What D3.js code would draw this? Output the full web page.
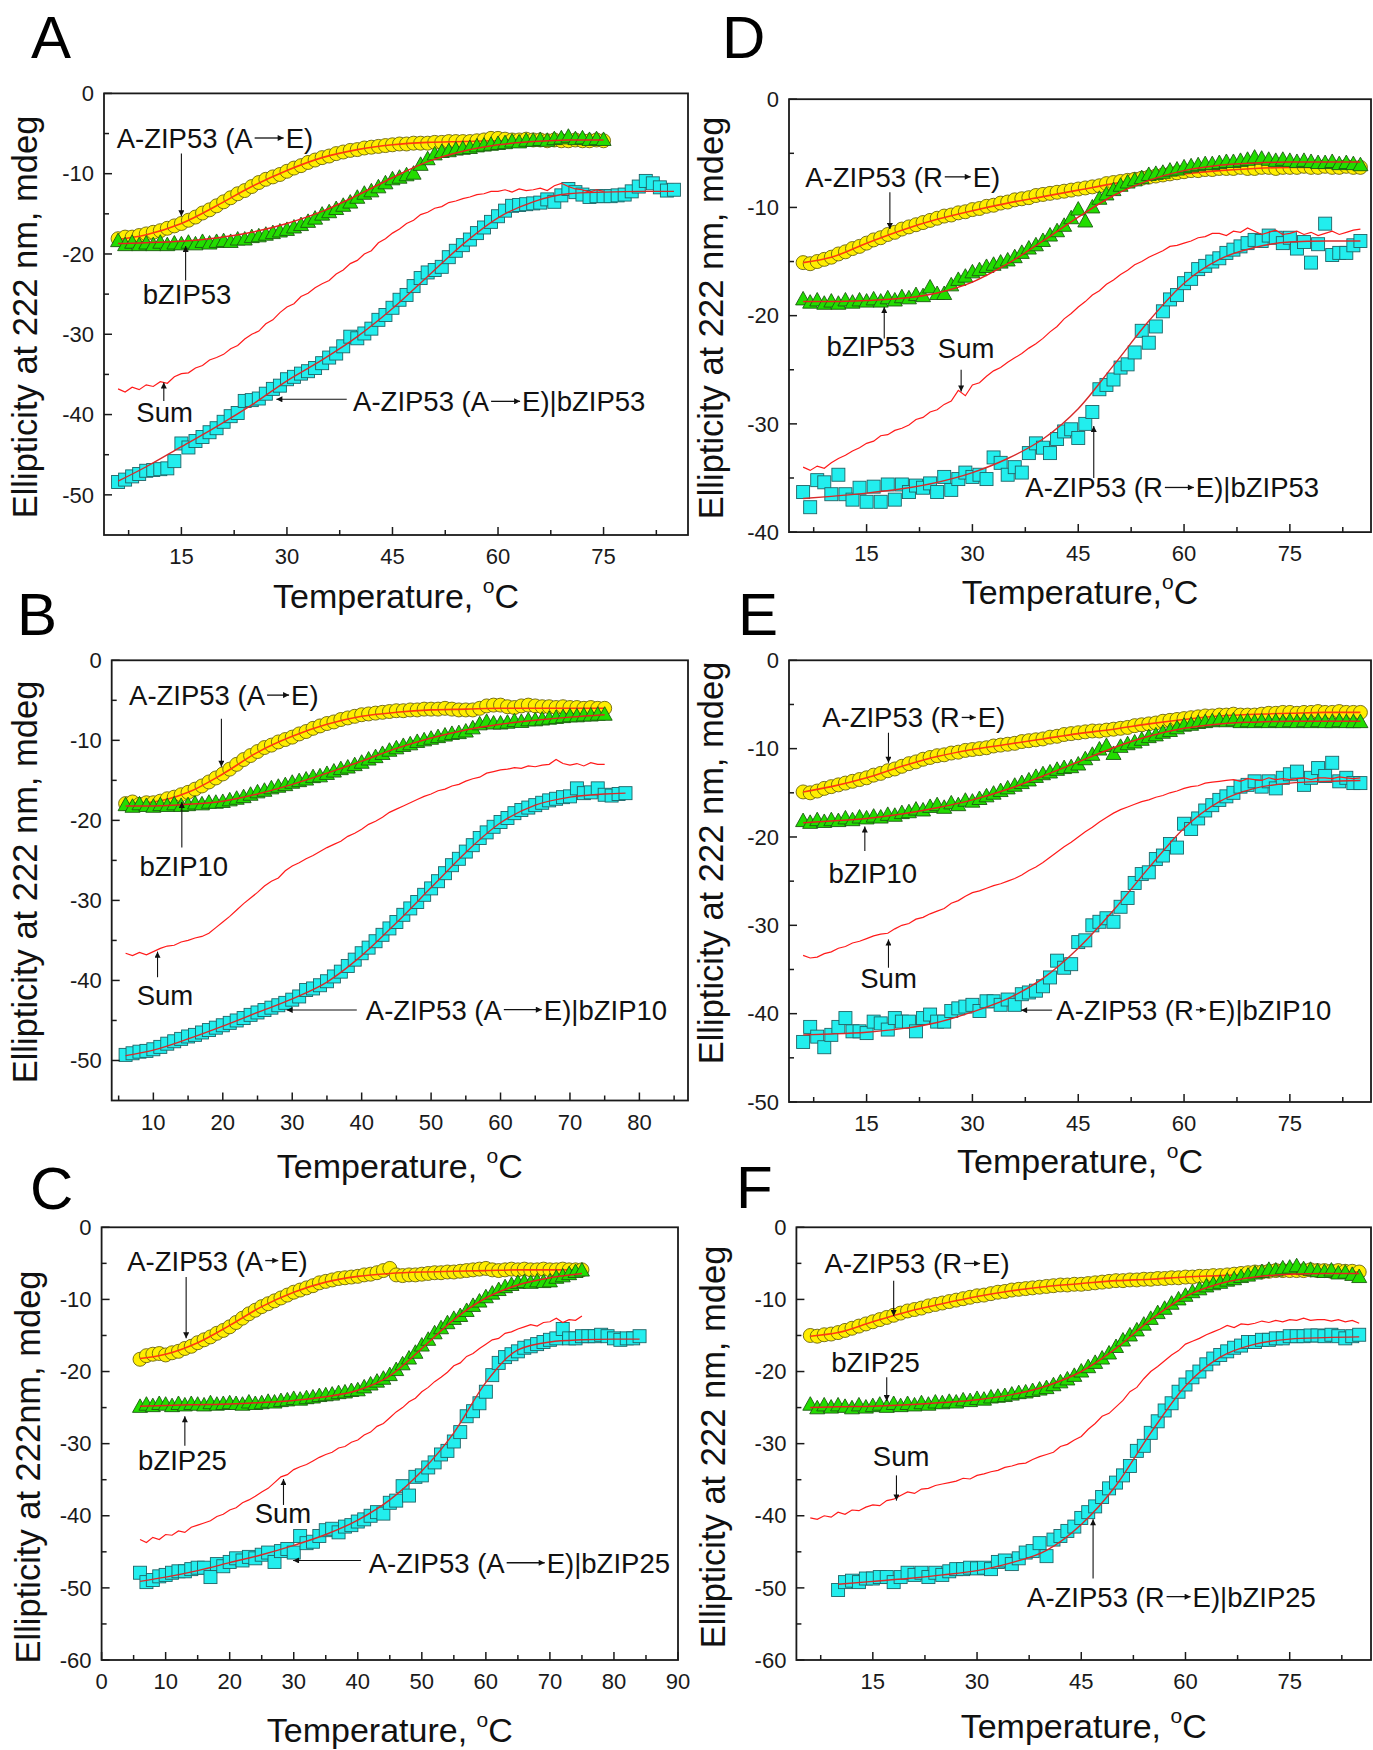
<!DOCTYPE html>
<html>
<head>
<meta charset="UTF-8">
<title>Thermal denaturation, six panels</title>
<script src="https://d3js.org/d3.v7.min.js"></script>
<style>
  body { margin: 0; background: #fff; }
  svg { display: block; font-family: "Liberation Sans", Arial, sans-serif; }
</style>
</head>
<body>
<svg id="fig" width="1373" height="1750"></svg>
<script>
// temperature grids (deg C)
const t6to75 = [6,7,8,9,10,11,12,13,14,15,16,17,18,19,20,21,22,23,24,25,26,27,28,29,30,31,32,33,34,35,36,37,38,39,40,41,42,43,44,45,46,47,48,49,50,51,52,53,54,55,56,57,58,59,60,61,62,63,64,65,66,67,68,69,70,71,72,73,74,75];
const t6to78 = [6,7,8,9,10,11,12,13,14,15,16,17,18,19,20,21,22,23,24,25,26,27,28,29,30,31,32,33,34,35,36,37,38,39,40,41,42,43,44,45,46,47,48,49,50,51,52,53,54,55,56,57,58,59,60,61,62,63,64,65,66,67,68,69,70,71,72,73,74,75,76,77,78];
const t6to84 = [6,7,8,9,10,11,12,13,14,15,16,17,18,19,20,21,22,23,24,25,26,27,28,29,30,31,32,33,34,35,36,37,38,39,40,41,42,43,44,45,46,47,48,49,50,51,52,53,54,55,56,57,58,59,60,61,62,63,64,65,66,67,68,69,70,71,72,73,74,75,76,77,78,79,80,81,82,83,84];
const t6to85 = [6,7,8,9,10,11,12,13,14,15,16,17,18,19,20,21,22,23,24,25,26,27,28,29,30,31,32,33,34,35,36,37,38,39,40,41,42,43,44,45,46,47,48,49,50,51,52,53,54,55,56,57,58,59,60,61,62,63,64,65,66,67,68,69,70,71,72,73,74,75,76,77,78,79,80,81,82,83,84,85];
const t10to85 = [10,11,12,13,14,15,16,17,18,19,20,21,22,23,24,25,26,27,28,29,30,31,32,33,34,35,36,37,38,39,40,41,42,43,44,45,46,47,48,49,50,51,52,53,54,55,56,57,58,59,60,61,62,63,64,65,66,67,68,69,70,71,72,73,74,75,76,77,78,79,80,81,82,83,84,85];
const fitT75 = [6,10,15,20,25,30,35,40,45,50,55,60,65,70,75];
const fitT78 = [6,10,15,20,25,30,35,40,45,50,55,60,65,70,75,78];
const fitT84 = [6,10,15,20,25,30,35,40,45,50,55,60,65,70,75,80,84];
const fitT85 = [6,10,15,20,25,30,35,40,45,50,55,60,65,70,75,80,85];
const fitT10to85 = [10,15,20,25,30,35,40,45,50,55,60,65,70,75,80,85];

// tick values
const xTicks15 = [15,30,45,60,75];
const xMinor15 = [7.5,22.5,37.5,52.5,67.5,82.5];
const xTicks10 = [10,20,30,40,50,60,70,80];
const xMinor10 = [5,15,25,35,45,55,65,75,85];
const xTicksC = [0,10,20,30,40,50,60,70,80,90];
const xMinorC = [5,15,25,35,45,55,65,75,85];
const yTicks40 = [0,-10,-20,-30,-40];
const yMinor40 = [-5,-15,-25,-35];
const yTicks50 = [0,-10,-20,-30,-40,-50];
const yMinor50 = [-5,-15,-25,-35,-45];
const yTicks60 = [0,-10,-20,-30,-40,-50,-60];
const yMinor60 = [-5,-15,-25,-35,-45,-55];

// ---- panel A ----
const circA = [-18.1,-17.9,-17.9,-17.7,-17.5,-17.3,-17.1,-16.8,-16.5,-16.2,-15.8,-15.4,-14.9,-14.5,-14.0,-13.5,-13.0,-12.5,-12.1,-11.6,-11.1,-10.7,-10.4,-10.1,-9.7,-9.3,-9.0,-8.6,-8.3,-8.0,-7.8,-7.5,-7.3,-7.1,-7.0,-6.8,-6.7,-6.6,-6.5,-6.4,-6.3,-6.3,-6.2,-6.2,-6.2,-6.1,-6.1,-6.0,-6.0,-6.0,-6.0,-5.9,-5.8,-5.6,-5.6,-5.7,-5.8,-5.8,-5.7,-5.8,-5.8,-5.9,-5.8,-5.9,-5.9,-5.8,-5.9,-5.9,-5.8,-5.9];
const triA = [-18.4,-18.9,-18.6,-18.9,-18.7,-18.9,-18.6,-18.9,-18.7,-18.8,-18.6,-18.8,-18.5,-18.7,-18.5,-18.4,-18.5,-18.2,-18.2,-17.9,-17.8,-17.6,-17.4,-17.2,-17.0,-16.7,-16.4,-16.0,-15.6,-15.1,-14.8,-14.4,-14.0,-13.6,-13.0,-12.5,-12.2,-11.7,-11.2,-10.7,-10.5,-10.2,-10.0,-8.9,-8.2,-7.6,-7.3,-7.2,-7.0,-6.9,-6.8,-6.6,-6.5,-6.4,-6.3,-6.2,-6.0,-6.1,-5.9,-5.9,-5.8,-5.9,-5.7,-5.6,-5.4,-5.7,-5.6,-5.8,-5.7,-5.8];
const sqA = [-48.4,-48.1,-47.7,-47.4,-47.0,-46.9,-46.8,-46.7,-45.8,-43.6,-44.1,-43.3,-42.8,-42.2,-41.7,-40.9,-40.2,-39.8,-38.3,-38.2,-38.0,-37.4,-36.8,-36.4,-35.6,-35.3,-34.9,-34.6,-34.2,-33.6,-32.9,-32.4,-31.5,-30.3,-30.5,-29.9,-29.3,-28.2,-27.6,-26.7,-25.7,-25.1,-24.0,-23.0,-22.3,-22.0,-21.6,-20.4,-19.6,-18.9,-18.2,-17.4,-16.7,-16.0,-15.3,-14.6,-14.0,-13.9,-13.8,-13.7,-13.6,-13.2,-13.5,-12.7,-11.9,-12.3,-12.6,-12.9,-12.8,-12.8,-12.8,-12.7,-12.6,-12.2,-11.6,-10.9,-11.2,-11.7,-12.1,-12.0];
const sumA = [-36.8,-37.2,-36.6,-36.9,-36.3,-36.5,-35.9,-36.1,-35.3,-34.9,-34.8,-34.2,-33.9,-33.2,-32.9,-32.5,-31.8,-31.4,-30.6,-30.0,-29.6,-28.7,-28.2,-27.3,-26.6,-26.2,-25.3,-24.9,-24.2,-23.7,-23.3,-22.5,-22.0,-21.2,-20.8,-20.0,-19.6,-18.6,-18.1,-17.4,-16.9,-16.2,-15.8,-15.1,-14.8,-14.3,-14.1,-13.6,-13.4,-13.1,-12.9,-12.6,-12.5,-12.2,-12.2,-12.0,-12.3,-11.9,-12.1,-12.0,-11.8,-12.1,-11.5,-11.2,-11.6,-11.9,-12.0,-12.3,-12.0,-12.2];
const circFitA = [-18.2,-17.6,-16.2,-14.0,-11.6,-9.6,-8.0,-7.0,-6.4,-6.1,-6.0,-5.9,-5.9,-5.9,-5.9];
const triFitA = [-18.7,-18.6,-18.4,-18.0,-17.3,-16.2,-14.7,-12.7,-10.5,-8.5,-7.2,-6.4,-6.0,-5.8,-5.8];
const sqFitA = [-48.3,-46.5,-44.0,-41.5,-38.8,-35.8,-33.2,-30.3,-26.8,-22.8,-18.8,-15.5,-13.5,-12.5,-12.3,-12.2,-12.2];

// ---- panel B ----
const circB = [-17.9,-17.7,-18.0,-17.8,-17.8,-17.6,-17.3,-17.1,-16.8,-16.5,-16.1,-15.7,-15.2,-14.7,-14.2,-13.6,-13.0,-12.4,-11.9,-11.4,-10.9,-10.6,-10.2,-9.9,-9.6,-9.2,-8.9,-8.5,-8.2,-7.9,-7.7,-7.4,-7.2,-7.0,-6.8,-6.7,-6.6,-6.5,-6.4,-6.3,-6.3,-6.2,-6.2,-6.1,-6.1,-6.1,-6.0,-6.1,-6.2,-6.2,-6.2,-6.0,-5.7,-5.6,-5.6,-5.8,-5.9,-5.7,-5.6,-5.7,-5.8,-5.8,-5.9,-5.8,-5.9,-5.9,-6.0,-5.9,-6.0,-6.0];
const triB = [-18.1,-18.3,-18.0,-18.2,-18.3,-18.1,-18.2,-18.0,-18.2,-18.1,-17.9,-18.0,-17.8,-17.8,-17.7,-17.5,-17.3,-17.1,-16.8,-16.5,-16.3,-16.0,-15.8,-15.6,-15.3,-15.1,-14.9,-14.6,-14.5,-14.2,-13.9,-13.6,-13.4,-13.1,-12.8,-12.4,-12.1,-11.7,-11.3,-11.0,-10.7,-10.5,-10.2,-10.0,-9.8,-9.6,-9.4,-9.2,-9.1,-8.9,-8.5,-8.0,-7.7,-7.9,-7.9,-7.8,-7.6,-7.7,-7.5,-7.5,-7.4,-7.3,-7.2,-7.1,-7.0,-7.0,-6.9,-6.9,-6.8,-6.8];
const sqB = [-49.3,-49.1,-48.9,-48.8,-48.6,-48.3,-47.9,-47.6,-47.3,-47.0,-46.8,-46.5,-46.2,-45.9,-45.6,-45.3,-45.0,-44.7,-44.3,-44.0,-43.7,-43.4,-43.1,-42.8,-42.4,-42.0,-41.2,-41.0,-40.6,-40.1,-39.5,-38.9,-38.2,-37.4,-36.6,-35.9,-35.1,-34.3,-33.5,-32.7,-31.8,-31.0,-30.2,-29.3,-28.5,-27.6,-26.6,-25.6,-24.8,-23.9,-23.1,-22.2,-21.5,-20.8,-20.2,-19.7,-19.1,-18.7,-18.4,-18.1,-17.8,-17.5,-17.3,-17.1,-17.0,-16.0,-16.6,-16.5,-16.0,-16.8,-16.9,-16.7,-16.6];
const sumB = [-36.6,-36.9,-36.5,-36.8,-36.4,-36.0,-35.7,-35.6,-35.2,-35.0,-34.7,-34.5,-34.1,-33.4,-32.7,-32.0,-31.2,-30.4,-29.7,-29.0,-28.2,-27.6,-27.2,-26.3,-25.7,-25.3,-24.8,-24.4,-23.9,-23.4,-23.0,-22.6,-22.0,-21.6,-21.1,-20.5,-20.1,-19.6,-19.0,-18.6,-18.2,-17.8,-17.4,-17.0,-16.7,-16.3,-16.1,-15.7,-15.5,-15.1,-14.8,-14.6,-14.1,-13.9,-13.7,-13.6,-13.4,-13.5,-13.2,-13.3,-13.1,-13.0,-12.4,-12.9,-13.1,-12.9,-13.2,-12.8,-13.0,-13.0];
const circFitB = [-17.9,-17.7,-16.5,-14.2,-11.5,-9.5,-8.0,-7.0,-6.5,-6.2,-6.1,-6.0,-6.0,-6.0,-6.0];
const triFitB = [-18.2,-18.2,-18.0,-17.6,-16.7,-15.5,-14.1,-12.6,-11.0,-9.7,-8.7,-8.0,-7.5,-7.1,-6.8];
const sqFitB = [-49.4,-48.7,-47.3,-45.7,-44.0,-42.3,-40.2,-36.9,-32.8,-28.4,-24.0,-20.3,-18.1,-17.1,-16.7,-16.6];

// ---- panel C ----
const circC = [-18.3,-17.8,-17.6,-17.5,-17.7,-17.4,-17.2,-16.8,-16.5,-16.0,-15.6,-15.2,-14.7,-14.3,-13.8,-13.2,-12.6,-12.0,-11.5,-11.0,-10.6,-10.2,-9.8,-9.4,-9.0,-8.7,-8.4,-8.1,-7.7,-7.5,-7.3,-7.1,-7.0,-6.9,-6.8,-6.6,-6.5,-6.3,-6.0,-5.7,-6.6,-6.7,-6.6,-6.6,-6.5,-6.4,-6.3,-6.3,-6.2,-6.2,-6.1,-6.0,-5.9,-5.8,-5.7,-5.9,-6.0,-5.9,-5.8,-5.9,-5.8,-5.9,-5.9,-5.8,-5.9,-5.9,-5.8,-5.9,-5.9,-5.9];
const triC = [-24.9,-24.6,-24.8,-24.5,-24.6,-24.8,-24.5,-24.7,-24.5,-24.6,-24.7,-24.4,-24.6,-24.5,-24.4,-24.5,-24.6,-24.3,-24.5,-24.4,-24.2,-24.3,-24.1,-24.0,-23.8,-23.9,-23.7,-23.6,-23.4,-23.3,-23.2,-23.0,-22.9,-22.7,-22.6,-22.2,-21.8,-21.4,-21.0,-20.5,-19.8,-19.0,-18.2,-17.4,-16.4,-15.6,-14.7,-14.0,-13.3,-12.7,-12.3,-11.6,-10.9,-10.3,-9.7,-9.2,-8.7,-8.3,-8.0,-7.7,-7.6,-7.7,-7.5,-7.6,-7.5,-7.0,-6.8,-6.5,-6.2,-6.0];
const sqC = [-47.9,-49.2,-48.9,-48.4,-48.2,-47.9,-47.7,-47.7,-47.4,-47.2,-47.2,-48.5,-46.7,-47.0,-46.4,-45.9,-46.2,-45.7,-45.9,-45.4,-45.1,-46.4,-44.9,-44.6,-45.1,-42.8,-43.8,-43.6,-42.8,-42.0,-41.8,-42.3,-41.5,-41.3,-40.8,-40.5,-40.0,-39.5,-39.7,-38.2,-37.9,-35.9,-37.2,-34.6,-34.4,-33.3,-32.6,-31.5,-31.0,-29.7,-28.4,-26.2,-25.5,-24.4,-22.8,-20.5,-18.8,-18.0,-17.6,-17.2,-16.7,-16.5,-16.2,-15.9,-15.6,-15.4,-14.1,-15.4,-15.4,-15.1,-15.1,-15.1,-14.9,-15.1,-15.4,-15.6,-15.4,-15.4,-15.1];
const sumC = [-43.3,-43.7,-43.0,-43.3,-42.6,-42.7,-42.1,-42.3,-41.6,-41.3,-41.0,-40.7,-40.1,-39.8,-39.2,-38.9,-38.2,-37.8,-37.3,-36.7,-36.2,-35.4,-34.6,-34.3,-33.6,-33.2,-32.9,-32.4,-31.9,-31.5,-31.2,-30.6,-30.4,-29.8,-29.5,-28.8,-28.4,-27.6,-27.2,-26.4,-25.6,-25.0,-24.2,-23.7,-22.8,-22.2,-21.4,-20.8,-20.1,-19.2,-18.8,-17.9,-17.5,-16.8,-16.2,-15.6,-15.4,-14.7,-14.5,-14.1,-13.8,-13.5,-13.7,-13.2,-13.1,-12.6,-13.2,-12.8,-12.9,-12.3];
const circFitC = [-18.2,-17.6,-16.0,-13.6,-11.0,-9.0,-7.6,-6.8,-6.4,-6.2,-6.1,-6.0,-5.9,-5.9,-5.9];
const triFitC = [-24.8,-24.7,-24.6,-24.5,-24.3,-24.0,-23.5,-22.6,-20.6,-16.8,-12.8,-9.8,-8.0,-7.0,-6.4];
const sqFitC = [-49.1,-48.5,-47.6,-46.5,-45.4,-44.1,-42.6,-40.6,-37.8,-33.8,-28.5,-21.5,-17.0,-15.9,-15.6,-15.5,-15.5];

// ---- panel D ----
const circD = [-15.1,-15.2,-15.0,-14.8,-14.6,-14.3,-14.1,-13.8,-13.6,-13.3,-13.0,-12.8,-12.5,-12.3,-12.0,-11.8,-11.6,-11.4,-11.2,-11.0,-10.8,-10.7,-10.5,-10.4,-10.2,-10.1,-9.9,-9.8,-9.6,-9.5,-9.3,-9.2,-9.1,-8.9,-8.8,-8.7,-8.6,-8.5,-8.4,-8.3,-8.2,-8.1,-8.0,-7.8,-7.7,-7.6,-7.5,-7.4,-7.3,-7.2,-7.1,-7.0,-6.9,-6.8,-6.7,-6.6,-6.6,-6.5,-6.5,-6.4,-6.4,-6.4,-6.3,-6.4,-6.4,-6.3,-6.3,-6.4,-6.3,-6.3,-6.3,-6.2,-6.3,-6.3,-6.2,-6.3,-6.3,-6.2,-6.3,-6.3];
const triD = [-18.5,-18.8,-18.6,-18.9,-18.7,-18.9,-18.6,-18.8,-18.6,-18.7,-18.5,-18.7,-18.4,-18.6,-18.3,-18.4,-18.1,-18.2,-17.4,-18.0,-18.0,-17.2,-16.7,-16.4,-16.0,-15.8,-15.5,-15.3,-15.1,-14.9,-14.6,-14.2,-13.8,-13.5,-13.1,-12.6,-12.2,-11.7,-11.0,-10.2,-11.3,-10.0,-9.2,-8.8,-8.4,-8.0,-7.7,-7.5,-7.3,-7.0,-6.9,-6.8,-6.6,-6.5,-6.3,-6.2,-6.1,-6.0,-6.0,-5.9,-5.8,-5.8,-5.7,-5.6,-5.4,-5.5,-5.6,-5.7,-5.6,-5.7,-5.8,-5.7,-5.8,-5.9,-5.9,-5.8,-6.0,-5.9,-6.0,-6.1];
const sqD = [-36.3,-37.7,-35.2,-35.4,-36.5,-34.7,-36.5,-37.0,-35.9,-37.2,-35.8,-37.2,-35.6,-37.0,-35.6,-36.3,-35.7,-35.9,-35.5,-36.3,-34.9,-36.1,-35.1,-34.5,-34.9,-34.7,-35.1,-33.1,-33.6,-34.7,-34.0,-34.5,-32.7,-31.8,-32.2,-32.7,-31.4,-30.7,-30.5,-31.3,-30.0,-28.9,-26.8,-26.4,-25.9,-24.8,-24.5,-23.4,-21.4,-22.5,-21.0,-19.6,-18.5,-18.1,-17.0,-16.6,-15.7,-15.4,-15.0,-14.7,-14.2,-13.9,-13.6,-13.3,-13.0,-13.1,-12.6,-12.8,-13.3,-12.8,-13.8,-13.2,-15.1,-13.4,-11.5,-14.4,-14.2,-14.2,-13.5,-13.1];
const sumD = [-34.0,-34.3,-33.9,-34.1,-33.6,-33.2,-32.9,-32.5,-32.2,-31.8,-31.6,-31.1,-31.0,-30.6,-30.4,-30.1,-29.6,-29.4,-28.9,-28.7,-28.2,-27.9,-26.9,-27.4,-26.4,-26.2,-25.6,-25.1,-24.8,-24.3,-23.9,-23.5,-23.0,-22.6,-22.1,-21.5,-21.0,-20.3,-19.8,-19.2,-18.7,-18.1,-17.7,-17.1,-16.7,-16.2,-15.8,-15.3,-15.0,-14.6,-14.3,-14.0,-13.6,-13.5,-13.3,-13.1,-12.8,-12.7,-12.4,-12.4,-12.6,-12.2,-12.3,-11.9,-12.2,-12.5,-12.3,-12.1,-12.5,-12.4,-12.2,-12.5,-12.3,-12.6,-12.4,-12.2,-12.5,-12.3,-12.1,-12.0];
const circFitD = [-15.1,-14.6,-13.3,-12.1,-11.1,-10.3,-9.6,-9.0,-8.4,-7.8,-7.3,-6.9,-6.6,-6.4,-6.3,-6.3,-6.3];
const triFitD = [-18.7,-18.7,-18.6,-18.4,-17.9,-16.9,-15.2,-13.1,-10.9,-8.9,-7.5,-6.6,-6.1,-5.9,-5.8,-5.8,-5.8];
const sqFitD = [-36.9,-36.7,-36.4,-36.0,-35.4,-34.5,-33.2,-31.4,-28.6,-24.6,-20.5,-17.0,-14.8,-13.7,-13.2,-13.1,-13.1];

// ---- panel E ----
const circE = [-14.9,-15.0,-14.8,-14.5,-14.3,-14.1,-13.9,-13.7,-13.5,-13.3,-13.0,-12.8,-12.5,-12.3,-12.0,-11.7,-11.5,-11.2,-11.0,-10.8,-10.7,-10.5,-10.4,-10.2,-10.1,-10.0,-9.9,-9.7,-9.6,-9.5,-9.4,-9.2,-9.1,-9.0,-8.9,-8.7,-8.6,-8.4,-8.3,-8.2,-8.1,-8.0,-8.0,-7.9,-7.8,-7.7,-7.6,-7.4,-7.3,-7.2,-7.1,-6.9,-6.8,-6.7,-6.6,-6.5,-6.4,-6.3,-6.3,-6.2,-6.2,-6.1,-6.2,-6.2,-6.2,-6.1,-6.0,-6.0,-5.9,-5.9,-6.0,-5.9,-5.9,-5.8,-5.9,-5.9,-5.8,-5.9,-5.9,-5.9];
const triE = [-18.2,-18.4,-18.1,-18.3,-18.1,-18.2,-17.9,-18.1,-17.8,-17.9,-17.7,-17.8,-17.5,-17.6,-17.3,-17.2,-16.9,-17.0,-16.6,-16.4,-16.7,-16.2,-16.4,-15.9,-16.0,-15.7,-15.4,-15.1,-14.8,-14.5,-14.2,-13.9,-13.6,-13.2,-12.9,-12.7,-12.4,-12.2,-12.1,-11.8,-11.2,-10.7,-10.1,-9.7,-10.6,-9.8,-9.5,-9.3,-9.0,-8.7,-8.5,-8.2,-8.0,-7.7,-7.4,-7.3,-7.1,-7.0,-6.9,-6.8,-6.9,-6.8,-7.0,-6.9,-7.0,-6.9,-7.0,-6.9,-7.0,-6.9,-7.0,-6.9,-7.0,-6.9,-7.0,-7.0,-6.9,-7.0,-7.0,-7.0];
const sqE = [-43.2,-41.5,-42.6,-43.8,-42.4,-41.5,-40.5,-42.0,-42.0,-42.2,-40.9,-41.1,-41.8,-40.5,-40.9,-40.9,-42.0,-40.5,-40.1,-40.9,-40.9,-39.7,-39.4,-39.2,-39.0,-39.7,-38.6,-38.6,-39.0,-38.4,-39.0,-37.8,-37.6,-37.4,-36.9,-35.9,-34.0,-34.8,-34.4,-31.9,-31.7,-30.0,-29.6,-29.2,-29.6,-27.9,-26.9,-25.2,-24.2,-24.0,-22.5,-22.1,-20.8,-21.2,-18.5,-19.1,-17.9,-17.0,-16.4,-15.8,-15.4,-15.0,-14.3,-14.1,-13.7,-14.3,-13.7,-14.5,-13.3,-12.9,-12.6,-14.1,-13.3,-12.2,-13.1,-11.6,-13.7,-13.3,-13.9,-13.9];
const sumE = [-33.4,-33.7,-33.6,-33.2,-33.0,-32.6,-32.4,-32.0,-31.8,-31.5,-31.2,-31.0,-30.9,-30.4,-30.0,-29.8,-29.3,-29.1,-28.7,-28.4,-28.1,-27.5,-27.2,-26.7,-26.3,-26.1,-25.8,-25.5,-25.3,-25.0,-24.7,-24.3,-23.8,-23.4,-22.9,-22.3,-21.7,-21.1,-20.6,-20.0,-19.4,-18.9,-18.3,-17.8,-17.3,-16.9,-16.6,-16.3,-16.0,-15.8,-15.5,-15.3,-15.0,-14.8,-14.5,-14.3,-14.2,-13.9,-13.8,-13.7,-13.6,-13.5,-13.7,-13.4,-13.5,-13.6,-13.3,-13.5,-13.4,-13.5,-13.4,-13.3,-13.5,-13.3,-13.3,-13.4,-13.2,-13.3,-13.4,-13.3];
const circFitE = [-14.9,-14.3,-13.3,-12.0,-10.9,-10.1,-9.5,-8.9,-8.3,-7.8,-7.2,-6.7,-6.3,-6.1,-6.0,-5.9,-5.9];
const triFitE = [-18.4,-18.2,-17.9,-17.4,-16.7,-15.8,-14.6,-13.1,-11.5,-9.9,-8.6,-7.7,-7.2,-7.0,-6.9,-6.9,-6.9];
const sqFitE = [-42.4,-42.3,-42.1,-41.7,-41.0,-39.8,-38.3,-36.0,-32.6,-28.3,-23.5,-19.0,-16.0,-14.5,-13.9,-13.7,-13.6];

// ---- panel F ----
const circF = [-15.0,-15.1,-14.9,-14.8,-14.6,-14.3,-14.0,-13.7,-13.4,-13.1,-12.8,-12.5,-12.2,-11.9,-11.6,-11.4,-11.2,-10.9,-10.7,-10.5,-10.3,-10.1,-9.9,-9.7,-9.5,-9.4,-9.2,-9.0,-8.9,-8.7,-8.6,-8.5,-8.4,-8.3,-8.2,-8.1,-8.0,-8.0,-7.9,-7.9,-7.8,-7.7,-7.6,-7.5,-7.4,-7.4,-7.3,-7.3,-7.2,-7.2,-7.1,-7.1,-7.0,-7.0,-6.9,-6.9,-6.8,-6.8,-6.7,-6.7,-6.6,-6.5,-6.4,-6.3,-6.2,-6.2,-6.1,-6.0,-6.0,-6.0,-6.0,-6.0,-5.9,-6.0,-6.0,-6.1,-6.0,-6.1,-6.1,-6.2];
const triF = [-24.6,-25.1,-24.7,-25.0,-24.7,-24.9,-25.1,-24.7,-25.0,-24.8,-24.6,-24.9,-24.5,-24.8,-24.5,-24.7,-24.4,-24.6,-24.3,-24.4,-24.2,-24.3,-24.0,-24.1,-23.8,-23.9,-23.6,-23.5,-23.4,-23.2,-23.0,-22.9,-22.7,-22.5,-22.3,-21.9,-21.5,-21.1,-20.6,-20.0,-19.4,-18.8,-18.2,-17.5,-16.6,-15.7,-15.0,-14.3,-13.5,-12.7,-11.9,-11.3,-10.6,-10.0,-9.5,-9.0,-8.6,-8.2,-7.9,-7.7,-7.4,-7.2,-6.9,-6.7,-6.4,-6.2,-5.9,-6.0,-5.7,-5.6,-5.4,-5.8,-5.9,-6.1,-6.2,-6.0,-6.4,-6.3,-6.6,-6.9];
const sqF = [-50.3,-49.2,-49.0,-49.2,-48.7,-48.7,-48.5,-48.5,-49.2,-48.5,-47.9,-48.2,-47.9,-48.5,-47.9,-48.2,-47.7,-47.4,-47.4,-47.2,-47.3,-47.2,-47.4,-46.4,-46.2,-46.7,-45.9,-45.1,-44.9,-43.8,-45.6,-43.3,-42.8,-42.1,-41.5,-40.3,-39.5,-38.7,-37.4,-36.2,-35.4,-34.4,-33.1,-31.0,-30.3,-28.5,-26.9,-25.4,-24.4,-22.8,-21.8,-20.8,-20.0,-19.0,-18.2,-17.7,-17.2,-16.7,-16.4,-15.9,-15.9,-15.6,-15.6,-15.4,-15.4,-15.1,-15.1,-15.1,-15.0,-15.0,-15.1,-14.9,-15.1,-15.4,-15.1,-14.9];
const sumF = [-40.3,-40.5,-40.0,-40.2,-39.5,-39.8,-39.2,-39.3,-38.8,-38.5,-38.6,-37.9,-37.7,-37.2,-36.7,-36.9,-36.3,-36.2,-35.8,-35.6,-35.4,-35.2,-34.8,-34.9,-34.4,-34.2,-33.9,-33.7,-33.3,-33.1,-32.8,-32.7,-32.2,-31.8,-31.5,-31.2,-30.4,-30.1,-29.5,-29.0,-28.0,-27.2,-26.2,-25.8,-24.9,-24.0,-22.8,-22.2,-21.0,-20.0,-19.3,-18.5,-17.7,-17.1,-16.2,-15.8,-15.4,-14.9,-14.5,-14.1,-13.6,-13.9,-13.4,-13.5,-13.3,-13.0,-13.2,-12.9,-13.1,-12.8,-12.9,-12.6,-12.9,-12.8,-12.8,-13.0,-12.8,-13.1,-12.9,-13.3];
const circFitF = [-15.1,-14.6,-13.1,-11.7,-10.6,-9.6,-8.8,-8.2,-7.8,-7.4,-7.2,-6.9,-6.7,-6.5,-6.3,-6.2,-6.2];
const triFitF = [-25.0,-24.9,-24.8,-24.6,-24.3,-23.9,-23.2,-22.0,-20.0,-16.8,-12.8,-9.6,-7.8,-6.9,-6.5,-6.4,-6.4];
const sqFitF = [-49.5,-49.1,-48.7,-48.2,-47.6,-46.5,-44.8,-41.2,-35.8,-28.5,-22.0,-18.0,-16.2,-15.5,-15.3,-15.2];

// annotation labels (position in data units, arrow from -> to)
const notesA = [
  {x: 5.8, y: -6.8, pre: "A-ZIP53 (A", gap: 33, post: "E)", arrow: [15, -7.5, 15, -15.3]},
  {x: 9.5, y: -26.2, pre: "bZIP53", arrow: [15.6, -23.3, 15.6, -19.0]},
  {x: 8.6, y: -40.9, pre: "Sum", arrow: [12.5, -38.3, 12.5, -36.0]},
  {x: 39.4, y: -39.6, pre: "A-ZIP53 (A", gap: 33, post: "E)|bZIP53", arrow: [38.5, -38.1, 28.5, -38.1]}
];
const notesB = [
  {x: 6.5, y: -5.6, pre: "A-ZIP53 (A", gap: 26, post: " E)", arrow: [19.8, -7.3, 19.8, -13.3]},
  {x: 8.0, y: -26.9, pre: "bZIP10", arrow: [14.1, -23.4, 14.1, -17.7]},
  {x: 7.6, y: -43.1, pre: "Sum", arrow: [10.6, -39.6, 10.6, -36.4]},
  {x: 40.6, y: -44.9, pre: "A-ZIP53 (A", gap: 42, post: "E)|bZIP10", arrow: [39.3, -43.7, 29.2, -43.7]}
];
const notesC = [
  {x: 4.0, y: -6.0, pre: "A-ZIP53 (A", gap: 17, post: " E)", arrow: [13.2, -6.9, 13.2, -15.4]},
  {x: 5.7, y: -33.7, pre: "bZIP25", arrow: [13.0, -30.3, 13.0, -26.2]},
  {x: 23.9, y: -41.0, pre: "Sum", arrow: [28.4, -38.5, 28.4, -34.9]},
  {x: 41.7, y: -47.9, pre: "A-ZIP53 (A", gap: 42, post: "E)|bZIP25", arrow: [40.5, -46.2, 29.9, -46.2]}
];
const notesD = [
  {x: 6.3, y: -8.1, pre: "A-ZIP53 (R", gap: 30, post: "E)", arrow: [18.3, -8.6, 18.3, -12.0]},
  {x: 9.3, y: -23.7, pre: "bZIP53", arrow: [17.5, -22.1, 17.5, -19.2]},
  {x: 25.1, y: -23.9, pre: "Sum", arrow: [28.4, -25.0, 28.4, -27.0]},
  {x: 37.5, y: -36.8, pre: "A-ZIP53 (R", gap: 33, post: "E)|bZIP53", arrow: [47.2, -35.0, 47.2, -30.2]}
];
const notesE = [
  {x: 8.7, y: -7.6, pre: "A-ZIP53 (R", gap: 18, post: "E)", arrow: [18.1, -8.2, 18.1, -11.6]},
  {x: 9.6, y: -25.2, pre: "bZIP10", arrow: [14.75, -21.6, 14.75, -18.8]},
  {x: 14.1, y: -37.1, pre: "Sum", arrow: [18.1, -34.8, 18.1, -31.6]},
  {x: 41.9, y: -40.7, pre: "A-ZIP53 (R", gap: 14, post: " E)|bZIP10", arrow: [41.3, -39.6, 36.9, -39.6]}
];
const notesF = [
  {x: 8.05, y: -6.4, pre: "A-ZIP53 (R ", gap: 20, post: " E)", arrow: [18.0, -7.4, 18.0, -12.3]},
  {x: 9.0, y: -20.0, pre: "bZIP25", arrow: [17.0, -20.8, 17.0, -24.1]},
  {x: 15.0, y: -33.1, pre: "Sum", arrow: [18.4, -34.4, 18.4, -37.9]},
  {x: 37.2, y: -52.6, pre: "A-ZIP53 (R", gap: 28, post: " E)|bZIP25", arrow: [46.7, -48.7, 46.7, -40.5]}
];

// layout of the six panels (pixels)
const panels = [
  {key: "A", l: 104, r: 688, t: 93.4, b: 535, xDom: [4, 87], yDom: [-55, 0], xMaj: xTicks15, xMin: xMinor15, yMaj: yTicks50, yMin: yMinor50,
   yTitle: "Ellipticity at 222 nm, mdeg", yTx: 37, yTy: 317, xTitle: "Temperature, ", xTy: 608, lx: 31, ly: 58,
   circ: [t6to75, circA], tri: [t6to75, triA], sq: [t6to85, sqA], sum: [t6to75, sumA],
   circFit: [fitT75, circFitA], triFit: [fitT75, triFitA], sqFit: [fitT85, sqFitA], notes: notesA},
  {key: "B", l: 111.7, r: 688, t: 660.3, b: 1100.5, xDom: [4, 87], yDom: [-55, 0], xMaj: xTicks10, xMin: xMinor10, yMaj: yTicks50, yMin: yMinor50,
   yTitle: "Ellipticity at 222 nm, mdeg", yTx: 37, yTy: 882, xTitle: "Temperature, ", xTy: 1178, lx: 17, ly: 635,
   circ: [t6to75, circB], tri: [t6to75, triB], sq: [t6to78, sqB], sum: [t6to75, sumB],
   circFit: [fitT75, circFitB], triFit: [fitT75, triFitB], sqFit: [fitT78, sqFitB], notes: notesB},
  {key: "C", l: 101.6, r: 678, t: 1227.3, b: 1660, xDom: [0, 90], yDom: [-60, 0], xMaj: xTicksC, xMin: xMinorC, yMaj: yTicks60, yMin: yMinor60,
   yTitle: "Ellipticity at 222nm, mdeg", yTx: 39.5, yTy: 1467, xTitle: "Temperature, ", xTy: 1742, lx: 30, ly: 1209,
   circ: [t6to75, circC], tri: [t6to75, triC], sq: [t6to84, sqC], sum: [t6to75, sumC],
   circFit: [fitT75, circFitC], triFit: [fitT75, triFitC], sqFit: [fitT84, sqFitC], notes: notesC},
  {key: "D", l: 789, r: 1371, t: 99.2, b: 532.1, xDom: [4, 86.5], yDom: [-40, 0], xMaj: xTicks15, xMin: xMinor15, yMaj: yTicks40, yMin: yMinor40,
   yTitle: "Ellipticity at 222 nm, mdeg", yTx: 723, yTy: 318, xTitle: "Temperature,", xTy: 604, lx: 722, ly: 58,
   circ: [t6to85, circD], tri: [t6to85, triD], sq: [t6to85, sqD], sum: [t6to85, sumD],
   circFit: [fitT85, circFitD], triFit: [fitT85, triFitD], sqFit: [fitT85, sqFitD], notes: notesD},
  {key: "E", l: 789, r: 1371, t: 660.3, b: 1102, xDom: [4, 86.5], yDom: [-50, 0], xMaj: xTicks15, xMin: xMinor15, yMaj: yTicks50, yMin: yMinor50,
   yTitle: "Ellipticity at 222 nm, mdeg", yTx: 723, yTy: 863, xTitle: "Temperature, ", xTy: 1173, lx: 738, ly: 635,
   circ: [t6to85, circE], tri: [t6to85, triE], sq: [t6to85, sqE], sum: [t6to85, sumE],
   circFit: [fitT85, circFitE], triFit: [fitT85, triFitE], sqFit: [fitT85, sqFitE], notes: notesE},
  {key: "F", l: 796.4, r: 1371, t: 1227.3, b: 1660, xDom: [4, 86.7], yDom: [-60, 0], xMaj: xTicks15, xMin: xMinor15, yMaj: yTicks60, yMin: yMinor60,
   yTitle: "Ellipticity at 222 nm, mdeg", yTx: 725, yTy: 1447, xTitle: "Temperature, ", xTy: 1738, lx: 736, ly: 1208,
   circ: [t6to85, circF], tri: [t6to85, triF], sq: [t10to85, sqF], sum: [t6to85, sumF],
   circFit: [fitT85, circFitF], triFit: [fitT85, triFitF], sqFit: [fitT10to85, sqFitF], notes: notesF}
];

const svg = d3.select("#fig");
svg.append("rect").attr("width", 1373).attr("height", 1750).attr("fill", "#fff");

svg.append("defs").append("marker")
   .attr("id", "ah")
   .attr("viewBox", "0 0 10 10")
   .attr("refX", 10).attr("refY", 5)
   .attr("markerWidth", 7).attr("markerHeight", 6)
   .attr("markerUnits", "userSpaceOnUse")
   .attr("orient", "auto")
   .append("path").attr("d", "M0,0 L10,5 L0,10 z").attr("fill", "#111");

const zip = (ts, vs) => vs.map((v, i) => [ts[i], v]);
const INK = "#1a1a1a";

function drawPanel(p) {
  const x = d3.scaleLinear().domain(p.xDom).range([p.l, p.r]);
  const y = d3.scaleLinear().domain(p.yDom).range([p.b, p.t]);
  const g = svg.append("g");

  // markers: circles, triangles, squares, then their fits and the sum trace
  const fitLine = d3.line().x(d => x(d[0])).y(d => y(d[1])).curve(d3.curveMonotoneX);
  const rawLine = d3.line().x(d => x(d[0])).y(d => y(d[1]));

  g.append("g").selectAll("circle")
   .data(zip(p.circ[0], p.circ[1]))
   .enter().append("circle")
   .attr("cx", d => x(d[0])).attr("cy", d => y(d[1])).attr("r", 7)
   .attr("fill", "#ffee00").attr("stroke", "#6b6410").attr("stroke-width", 0.9);
  g.append("path").datum(zip(p.circFit[0], p.circFit[1]))
   .attr("d", fitLine).attr("fill", "none").attr("stroke", "#ff3a10").attr("stroke-width", 1.6);

  g.append("g").selectAll("path")
   .data(zip(p.tri[0], p.tri[1]))
   .enter().append("path")
   .attr("transform", d => `translate(${x(d[0])},${y(d[1])})`)
   .attr("d", "M0,-8L7.5,5.5L-7.5,5.5Z")
   .attr("fill", "#22dd00").attr("stroke", "#1d5a12").attr("stroke-width", 0.9);
  g.append("path").datum(zip(p.triFit[0], p.triFit[1]))
   .attr("d", fitLine).attr("fill", "none").attr("stroke", "#e82020").attr("stroke-width", 1.5);

  g.append("g").selectAll("rect")
   .data(zip(p.sq[0], p.sq[1]))
   .enter().append("rect")
   .attr("x", d => x(d[0]) - 6.5).attr("y", d => y(d[1]) - 6.5)
   .attr("width", 13).attr("height", 13)
   .attr("fill", "#22eeee").attr("stroke", "#1f6466").attr("stroke-width", 0.9);
  g.append("path").datum(zip(p.sqFit[0], p.sqFit[1]))
   .attr("d", fitLine).attr("fill", "none").attr("stroke", "#d82a2a").attr("stroke-width", 1.4);

  g.append("path").datum(zip(p.sum[0], p.sum[1]))
   .attr("d", rawLine).attr("fill", "none").attr("stroke", "#ff1a1a").attr("stroke-width", 1.2);

  // frame and inward ticks
  g.append("rect").attr("x", p.l).attr("y", p.t)
   .attr("width", p.r - p.l).attr("height", p.b - p.t)
   .attr("fill", "none").attr("stroke", INK).attr("stroke-width", 1.8);

  g.selectAll(".xt").data(p.xMaj.concat(p.xMin)).enter().append("line")
   .attr("x1", d => x(d)).attr("x2", d => x(d))
   .attr("y1", p.b).attr("y2", d => p.b - (p.xMaj.includes(d) ? 8 : 5))
   .attr("stroke", INK).attr("stroke-width", 1.5);
  g.selectAll(".yt").data(p.yMaj.concat(p.yMin)).enter().append("line")
   .attr("x1", p.l).attr("x2", d => p.l + (p.yMaj.includes(d) ? 8 : 5))
   .attr("y1", d => y(d)).attr("y2", d => y(d))
   .attr("stroke", INK).attr("stroke-width", 1.5);

  g.selectAll(".xl").data(p.xMaj).enter().append("text")
   .attr("x", d => x(d)).attr("y", p.b + 29)
   .attr("text-anchor", "middle").attr("font-size", 22).attr("fill", INK)
   .text(d => d);
  g.selectAll(".yl").data(p.yMaj).enter().append("text")
   .attr("x", p.l - 10).attr("y", d => y(d)).attr("dy", "0.35em")
   .attr("text-anchor", "end").attr("font-size", 22).attr("fill", INK)
   .text(d => d);

  // axis titles
  const xt = g.append("text")
   .attr("x", (p.l + p.r) / 2).attr("y", p.xTy)
   .attr("text-anchor", "middle").attr("font-size", 34).attr("fill", "#111");
  xt.append("tspan").text(p.xTitle);
  xt.append("tspan").attr("font-size", 21).attr("dy", -15).text("o");
  xt.append("tspan").attr("dy", 15).text("C");

  g.append("text")
   .attr("transform", `translate(${p.yTx},${p.yTy}) rotate(-90)`)
   .attr("text-anchor", "middle").attr("font-size", 34.5).attr("fill", "#111")
   .text(p.yTitle);

  // panel letter
  g.append("text").attr("x", p.lx).attr("y", p.ly)
   .attr("font-size", 60).attr("fill", "#000").text(p.key);

  // annotations
  p.notes.forEach(n => {
    const bx = x(n.x), by = y(n.y);
    const t1 = g.append("text").attr("x", bx).attr("y", by)
      .attr("font-size", 27.5).attr("fill", "#111").text(n.pre);
    if (n.post) {
      const w = t1.node().getComputedTextLength();
      const ay = by - 10;
      g.append("line")
       .attr("x1", bx + w + 2).attr("x2", bx + w + n.gap - 2)
       .attr("y1", ay).attr("y2", ay)
       .attr("stroke", "#111").attr("stroke-width", 1.3)
       .attr("marker-end", "url(#ah)");
      g.append("text").attr("x", bx + w + n.gap).attr("y", by)
       .attr("font-size", 27.5).attr("fill", "#111").text(n.post);
    }
    const a = n.arrow;
    g.append("line")
     .attr("x1", x(a[0])).attr("y1", y(a[1]))
     .attr("x2", x(a[2])).attr("y2", y(a[3]))
     .attr("stroke", "#111").attr("stroke-width", 1.1)
     .attr("marker-end", "url(#ah)");
  });
}

panels.forEach(drawPanel);
</script>
</body>
</html>
